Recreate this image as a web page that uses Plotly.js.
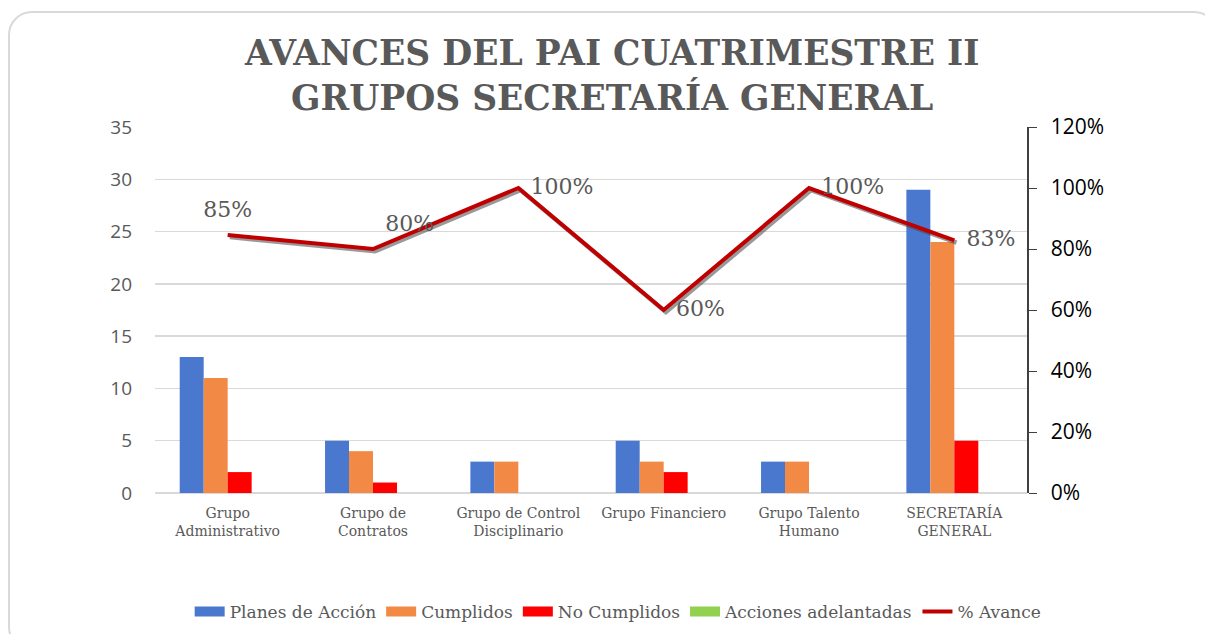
<!DOCTYPE html>
<html>
<head>
<meta charset="utf-8">
<script src="https://cdn.plot.ly/plotly-3.0.1.min.js"></script>
<style>
  html, body { margin: 0; padding: 0; background: #ffffff; width: 1205px; height: 634px; overflow: hidden; }
  #frame { position: absolute; left: 8px; top: 11px; width: 1210px; height: 640px; border: 2px solid #d9d9d9; border-radius: 24px; box-sizing: border-box; }
  #chart { position: absolute; left: 0; top: 0; width: 1205px; height: 634px; }
</style>
</head>
<body>
<div id="frame"></div>
<div id="chart"></div>
<script>
const categories = ["Grupo<br>Administrativo", "Grupo de<br>Contratos", "Grupo de Control<br>Disciplinario", "Grupo Financiero", "Grupo Talento<br>Humano", "SECRETARÍA<br>GENERAL"];
const planesAccion = [13, 5, 3, 5, 3, 29];
const cumplidos = [11, 4, 3, 3, 3, 24];
const noCumplidos = [2, 1, 0, 2, 0, 5];
const accionesAdelantadas = [0, 0, 0, 0, 0, 0];
const avance = [0.846, 0.80, 1.00, 0.60, 1.00, 0.828];
const seriesNames = ["Planes de Acción", "Cumplidos", "No Cumplidos", "Acciones adelantadas", "% Avance"];

const colors = ["#4A78CF", "#F28A45", "#FF0000", "#92D050", "#C00000"];
const serif = "DejaVu Serif, serif";
const labelPos = ["top center", "top right", "middle right", "middle right", "middle right", "middle right"];

const barSeries = [planesAccion, cumplidos, noCumplidos, accionesAdelantadas];
const traces = [];
barSeries.forEach((vals, i) => {
  traces.push({
    type: "bar", x: categories, y: vals, name: seriesNames[i],
    marker: { color: colors[i] }, showlegend: false, hoverinfo: "y"
  });
});
// shadow of the line (same data, on slightly shifted overlay axes)
traces.push({
  type: "scatter", mode: "lines", x: categories, y: avance, xaxis: "x2", yaxis: "y3",
  line: { color: "rgba(70,70,70,0.55)", width: 4.5 }, showlegend: false, hoverinfo: "skip"
});
traces.push({
  type: "scatter", mode: "lines+markers+text", x: categories, y: avance, xaxis: "x3", yaxis: "y4",
  name: seriesNames[4], line: { color: colors[4], width: 4 },
  marker: { size: 18, color: "rgba(0,0,0,0)" },
  text: avance.map(v => Math.round(v * 100) + "%"),
  textposition: labelPos,
  textfont: { family: serif, size: 22, color: "#595959" },
  showlegend: false, cliponaxis: false
});
// legend entries (wide rectangles like the original)
seriesNames.forEach((n, i) => {
  traces.push({
    type: "scatter", mode: "lines", x: [null], y: [null], name: n,
    line: { color: colors[i], width: i === 4 ? 4 : 10 }, hoverinfo: "skip"
  });
});
// keep right axis visible with its range
traces.push({
  type: "scatter", mode: "lines", x: [null], y: [null], yaxis: "y2", showlegend: false, hoverinfo: "skip"
});

const layout = {
  width: 1205, height: 634,
  paper_bgcolor: "rgba(0,0,0,0)", plot_bgcolor: "rgba(0,0,0,0)",
  margin: { l: 155, r: 178, t: 127, b: 141, autoexpand: false },
  title: {
    text: "AVANCES DEL PAI CUATRIMESTRE II<br>GRUPOS SECRETARÍA GENERAL",
    font: { family: serif, size: 34.5, color: "#595959", weight: "bold" },
    x: 0.508, xanchor: "center", y: 0.897, yanchor: "top"
  },
  barmode: "group", bargap: 0.34, bargroupgap: 0,
  xaxis: {
    type: "category", range: [-0.5, 5.5], showgrid: false, showline: false, ticks: "",
    tickfont: { family: serif, size: 14, color: "#595959" }, ticklabelstandoff: 10
  },
  xaxis2: {
    type: "category", overlaying: "x", range: [-0.515, 5.485], visible: false
  },
  xaxis3: {
    type: "category", overlaying: "x", range: [-0.5, 5.5], visible: false
  },
  yaxis: {
    range: [0, 35], dtick: 5, showline: false, ticks: "",
    gridcolor: "#d9d9d9", gridwidth: 1.5, zeroline: true, zerolinecolor: "#d9d9d9", zerolinewidth: 2,
    tickfont: { family: "Open Sans, sans-serif", size: 19, color: "#595959" }, ticklabelstandoff: 22
  },
  yaxis2: {
    overlaying: "y", side: "right", range: [0, 1.2], dtick: 0.2, tickformat: ".0%",
    showgrid: false, zeroline: false, showline: true, linecolor: "#404040", linewidth: 1.5,
    ticks: "outside", ticklen: 8, tickcolor: "#404040",
    tickfont: { family: "Open Sans, sans-serif", size: 21, color: "#000000" }, ticklabelstandoff: 10
  },
  yaxis3: {
    overlaying: "y", range: [0.007, 1.207], visible: false
  },
  yaxis4: {
    overlaying: "y", range: [0, 1.2], visible: false
  },
  legend: {
    orientation: "h", xref: "container", yref: "container",
    x: 0.513, xanchor: "center", y: 1 - 612 / 634, yanchor: "middle",
    font: { family: serif, size: 17, color: "#595959" }, itemwidth: 30, traceorder: "normal"
  },
  showlegend: true
};

Plotly.newPlot("chart", traces, layout, { displayModeBar: false, staticPlot: true });
</script>
</body>
</html>
